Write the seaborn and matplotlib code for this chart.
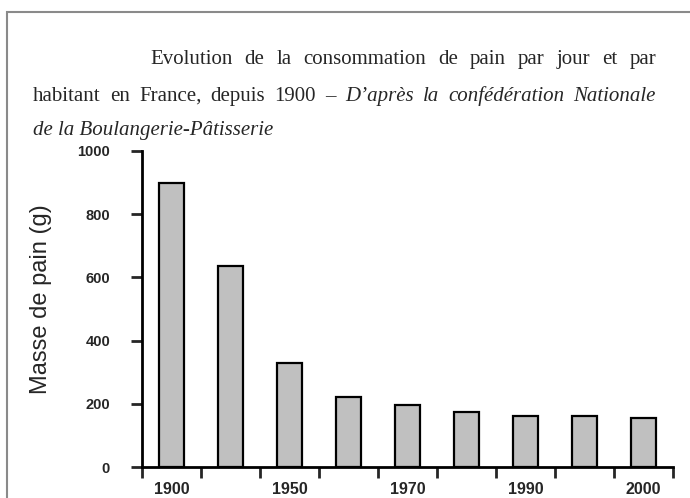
import numpy as np
import matplotlib
matplotlib.use("Agg")
import matplotlib.pyplot as plt
from matplotlib.patches import Rectangle
import seaborn as sns

# data
years = ["1900", "1920", "1950", "1960", "1970", "1980", "1990", "1995", "2000"]
bread_mass = [900, 635, 328, 222, 197, 174, 160, 160, 154]
tick_labels = ["1900", "", "1950", "", "1970", "", "1990", "", "2000"]
y_ticks = [0, 200, 400, 600, 800, 1000]

title_line1 = "Evolution de la consommation de pain par jour et par"
title_line2a = "habitant en France, depuis 1900 \u2013 "
title_line2b = "D\u2019apr\u00e8s la conf\u00e9d\u00e9ration Nationale"
title_line3 = "de la Boulangerie-P\u00e2tisserie"

sns.set_style("ticks")
plt.rcParams['font.family'] = ['Liberation Sans', 'DejaVu Sans']

W, H = 690, 498
fig = plt.figure(figsize=(W / 100, H / 100), dpi=100)
ax = fig.add_axes([142 / W, 1 - 467 / H, (673 - 142) / W, (467 - 151) / H])

sns.barplot(x=years, y=bread_mass, order=years, color="#c0c0c0", saturation=1,
            width=0.41, edgecolor="black", linewidth=1.6, ax=ax)

ax.set_xlim(-0.5, len(years) - 0.5)
ax.set_ylim(0, 1000)

# ticks between bars, labels under some bars
ax.set_xticks(np.arange(-0.5, len(years), 1))
ax.set_xticklabels([])
ax.set_xticks(np.arange(len(years)), minor=True)
ax.set_xticklabels(tick_labels, minor=True, fontweight="bold", fontsize=11.5)
ax.tick_params(axis="x", which="major", direction="out", length=8, width=2)
ax.tick_params(axis="x", which="minor", length=0, pad=11)

ax.set_yticks(y_ticks)
ax.set_yticklabels([str(t) for t in y_ticks], fontweight="bold", fontsize=10.5)
ax.tick_params(axis="y", direction="out", length=8, width=2, pad=15)

ax.set_xlabel("")
ax.set_ylabel("Masse de pain (g)", fontsize=17)
ax.yaxis.set_label_coords(-0.17, 0.53)

for side in ["top", "right"]:
    ax.spines[side].set_visible(False)
for side in ["left", "bottom"]:
    ax.spines[side].set_linewidth(2)
    ax.spines[side].set_color("black")

# page border
fig.patches.append(Rectangle((7 / W, -0.1), 1.2, 1 - 12 / H + 0.1, transform=fig.transFigure,
                             fill=False, edgecolor="#8a8a8a", linewidth=1.5))

# justified serif caption
renderer = fig.canvas.get_renderer()
serif = ['Liberation Serif', 'DejaVu Serif']
fs = 15


def justify(parts, x0, x1, y):
    # parts: list of (word, style)
    texts = [fig.text(0, y, w, family=serif, style=st, fontsize=fs,
                      transform=None) for w, st in parts]
    widths = [t.get_window_extent(renderer).width for t in texts]
    gap = (x1 - x0 - sum(widths)) / (len(texts) - 1)
    x = x0
    for t, w in zip(texts, widths):
        t.set_x(x)
        x += w + gap


justify([(w, "normal") for w in title_line1.split()], 150, 656, H - 64)
justify([(w, "normal") for w in title_line2a.split()] +
        [(w, "italic") for w in title_line2b.split()], 33, 656, H - 101)
fig.text(33 / W, 1 - 135 / H, title_line3, family=serif, style="italic", fontsize=fs)

fig.savefig("out.png", dpi=100)
